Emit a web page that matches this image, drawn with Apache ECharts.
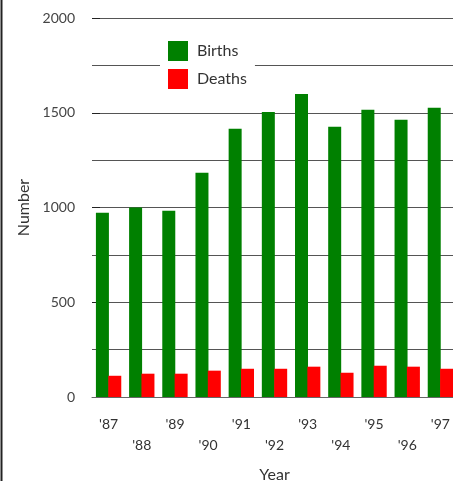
<!DOCTYPE html>
<html>
<head>
<meta charset="utf-8">
<script src="https://cdn.jsdelivr.net/npm/echarts@6/dist/echarts.min.js"></script>
<style>
  html, body { margin: 0; padding: 0; background: #fff; }
  #chart { width: 453px; height: 481px; }
</style>
</head>
<body>
<div id="chart"></div>
<script>
const years = ["'87", "'88", "'89", "'90", "'91", "'92", "'93", "'94", "'95", "'96", "'97"]
const births = [972, 1000, 983, 1184, 1416, 1504, 1599, 1426, 1516, 1463, 1527]
const deaths = [112, 123, 123, 139, 149, 149, 160, 128, 165, 160, 149]

const font = 'Lato, "Open Sans", sans-serif'
const chart = echarts.init(document.getElementById('chart'))

chart.setOption({
  animation: false,
  textStyle: { fontFamily: font },
  grid: { left: 92, right: -4, top: 18, bottom: 84, outerBoundsMode: 'none', containLabel: false },
  legend: {
    left: 160,
    top: 38,
    orient: 'vertical',
    icon: 'rect',
    itemWidth: 20,
    itemHeight: 20,
    itemGap: 8,
    padding: [3, 8, 3, 8],
    backgroundColor: '#fff',
    textStyle: { fontSize: 16, color: '#333', fontFamily: font, padding: [0, 0, 0, 4] },
    data: ['Births', 'Deaths'],
  },
  graphic: [
    { type: 'line', shape: { x1: 1.5, y1: 0, x2: 1.5, y2: 481 }, style: { stroke: '#222', lineWidth: 2 } },
  ],
  xAxis: {
    type: 'category',
    data: years,
    z: 5,
    name: 'Year',
    nameLocation: 'middle',
    nameGap: 70,
    nameTextStyle: { fontSize: 16, color: '#333' },
    axisLine: { lineStyle: { color: '#666' } },
    axisTick: { inside: true, alignWithLabel: true, length: 9, lineStyle: { color: '#222' } },
    axisLabel: {
      fontSize: 14,
      color: '#333',
      margin: 17,
      lineHeight: 21,
      formatter: (v, i) => (i % 2 === 1 ? '\n' + v : v),
    },
  },
  yAxis: {
    type: 'value',
    min: 0,
    max: 2000,
    interval: 500,
    name: 'Number',
    nameLocation: 'middle',
    nameGap: 59,
    nameRotate: 90,
    nameTextStyle: { fontSize: 16, color: '#333' },
    axisLine: { show: false },
    axisTick: { show: true, inside: true, length: 8, lineStyle: { color: '#222' } },
    axisLabel: { fontSize: 14, color: '#444', margin: 17, formatter: (v) => String(v) },
    splitLine: { lineStyle: { color: '#555', width: 1 } },
    minorTick: { show: false, splitNumber: 2 },
    minorSplitLine: { show: true, lineStyle: { color: '#555', width: 1 } },
  },
  series: [
    {
      name: 'Births',
      type: 'bar',
      data: births,
      barWidth: 13,
      barGap: '-5%',
      itemStyle: { color: '#008000' },
    },
    {
      name: 'Deaths',
      type: 'bar',
      data: deaths,
      barWidth: 13,
      itemStyle: { color: '#ff0000' },
    },
  ],
})
</script>
</body>
</html>
